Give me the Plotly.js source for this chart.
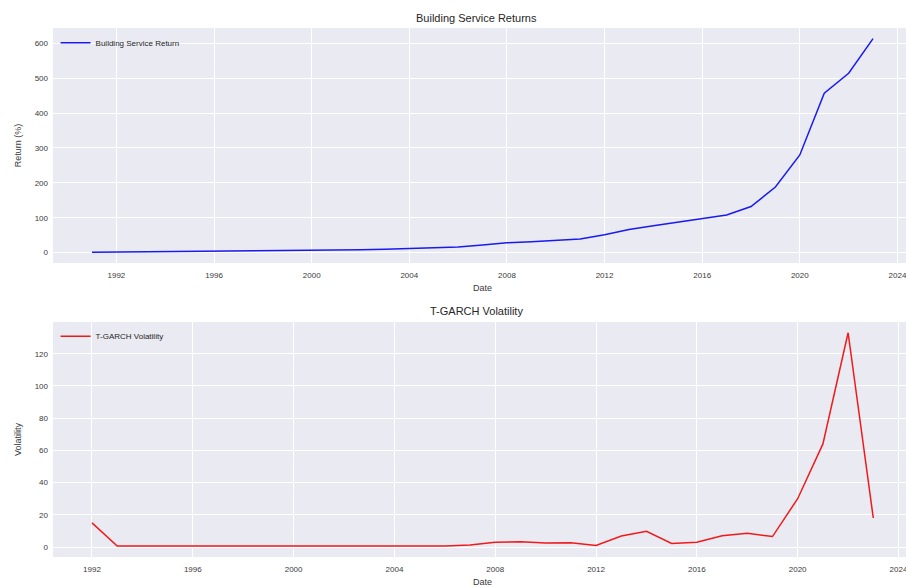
<!DOCTYPE html>
<html>
<head>
<meta charset="utf-8">
<script src="https://cdn.plot.ly/plotly-3.0.1.min.js"></script>
<style>
html, body { margin:0; padding:0; overflow:hidden; background:#fff; }
#chart { width:912px; height:587px; }
</style>
</head>
<body>
<div id="chart"></div>
<script>
// Building Service Returns (yearly, 1991-2023)
const returnYears = ['1991','1992','1993','1994','1995','1996','1997','1998','1999','2000','2001','2002','2003','2004','2005','2006','2007','2008','2009','2010','2011','2012','2013','2014','2015','2016','2017','2018','2019','2020','2021','2022','2023'];
const returnValues = [1, 1.5, 2, 2.5, 3, 3.5, 4, 4.5, 5.5, 6.5, 7.5, 8.5, 10, 11.5, 13, 16, 22, 28, 31, 35, 39, 51, 66, 77, 88, 99, 108, 132, 188, 280, 457, 514, 613];

// T-GARCH Volatility (yearly, 1992-2023)
const volYears = ['1992','1993','1994','1995','1996','1997','1998','1999','2000','2001','2002','2003','2004','2005','2006','2007','2008','2009','2010','2011','2012','2013','2014','2015','2016','2017','2018','2019','2020','2021','2022','2023'];
const volValues = [15, 0.6, 0.6, 0.6, 0.6, 0.6, 0.6, 0.6, 0.6, 0.6, 0.6, 0.6, 0.7, 0.6, 0.6, 1.2, 3, 3.2, 2.5, 2.6, 1, 6.8, 9.8, 2.2, 3, 7, 8.6, 6.5, 30, 64, 133, 18];

const titleReturns = 'Building Service Returns';
const titleVol = 'T-GARCH Volatility';

const font = 'Liberation Sans, Arial, sans-serif';
const tickColor = '#3a3a3a';

const traces = [
  {x: returnYears.map(y => y + '-01-01'), y: returnValues, type: 'scatter', mode: 'lines',
   name: 'Building Service Return', line: {color: '#1a1af0', width: 1.5}, xaxis: 'x', yaxis: 'y', legend: 'legend'},
  {x: volYears.map(y => y + '-01-01'), y: volValues, type: 'scatter', mode: 'lines',
   name: 'T-GARCH Volatility', line: {color: '#f01a1a', width: 1.5}, xaxis: 'x2', yaxis: 'y2', legend: 'legend2'}
];

const axCommon = {
  showgrid: true, gridcolor: '#ffffff', gridwidth: 1, zeroline: false, showline: false,
  ticks: '', tickfont: {family: font, size: 8, color: tickColor}
};

const layout = {
  width: 912, height: 587,
  margin: {l: 53, r: 0, t: 0, b: 0},
  paper_bgcolor: '#ffffff', plot_bgcolor: '#eaeaf2',
  font: {family: font, color: '#262626'},
  showlegend: true,
  xaxis: Object.assign({}, axCommon, {
    type: 'date', domain: [0, 1], anchor: 'y',
    range: ['1989-05-27', '2024-08-06'], dtick: 'M48', tick0: '1992-01-01', tickformat: '%Y',
    ticklabelstandoff: 6,
    title: {text: 'Date', font: {family: font, size: 9, color: tickColor}, standoff: 5}
  }),
  yaxis: Object.assign({}, axCommon, {
    domain: [0.5520, 0.9523], anchor: 'x', range: [-29.6, 643.6], dtick: 100,
    ticklabelstandoff: 4,
    title: {text: 'Return (%)', font: {family: font, size: 9, color: tickColor}, standoff: 11}
  }),
  xaxis2: Object.assign({}, axCommon, {
    type: 'date', domain: [0, 1], anchor: 'y2',
    range: ['1990-06-15', '2024-07-15'], dtick: 'M48', tick0: '1992-01-01', tickformat: '%Y',
    ticklabelstandoff: 6,
    title: {text: 'Date', font: {family: font, size: 9, color: tickColor}, standoff: 5}
  }),
  yaxis2: Object.assign({}, axCommon, {
    domain: [0.0511, 0.4515], anchor: 'x2', range: [-6.2, 139.7], dtick: 20,
    ticklabelstandoff: 4,
    title: {text: 'Volatility', font: {family: font, size: 9, color: tickColor}, standoff: 11}
  }),
  legend: {x: 0.003, y: 0.952, xanchor: 'left', yanchor: 'top', bgcolor: 'rgba(0,0,0,0)',
           font: {family: font, size: 8, color: '#262626'}, itemwidth: 30},
  legend2: {x: 0.003, y: 0.452, xanchor: 'left', yanchor: 'top', bgcolor: 'rgba(0,0,0,0)',
           font: {family: font, size: 8, color: '#262626'}, itemwidth: 30},
  annotations: [
    {text: titleReturns, xref: 'paper', yref: 'paper', x: 0.4935, y: 1 - 18/587, xanchor: 'center', yanchor: 'middle',
     showarrow: false, font: {family: font, size: 11, color: '#262626'}},
    {text: titleVol, xref: 'paper', yref: 'paper', x: 0.4935, y: 1 - 311/587, xanchor: 'center', yanchor: 'middle',
     showarrow: false, font: {family: font, size: 11, color: '#262626'}}
  ]
};

Plotly.newPlot('chart', traces, layout, {displayModeBar: false, staticPlot: true});
</script>
</body>
</html>
